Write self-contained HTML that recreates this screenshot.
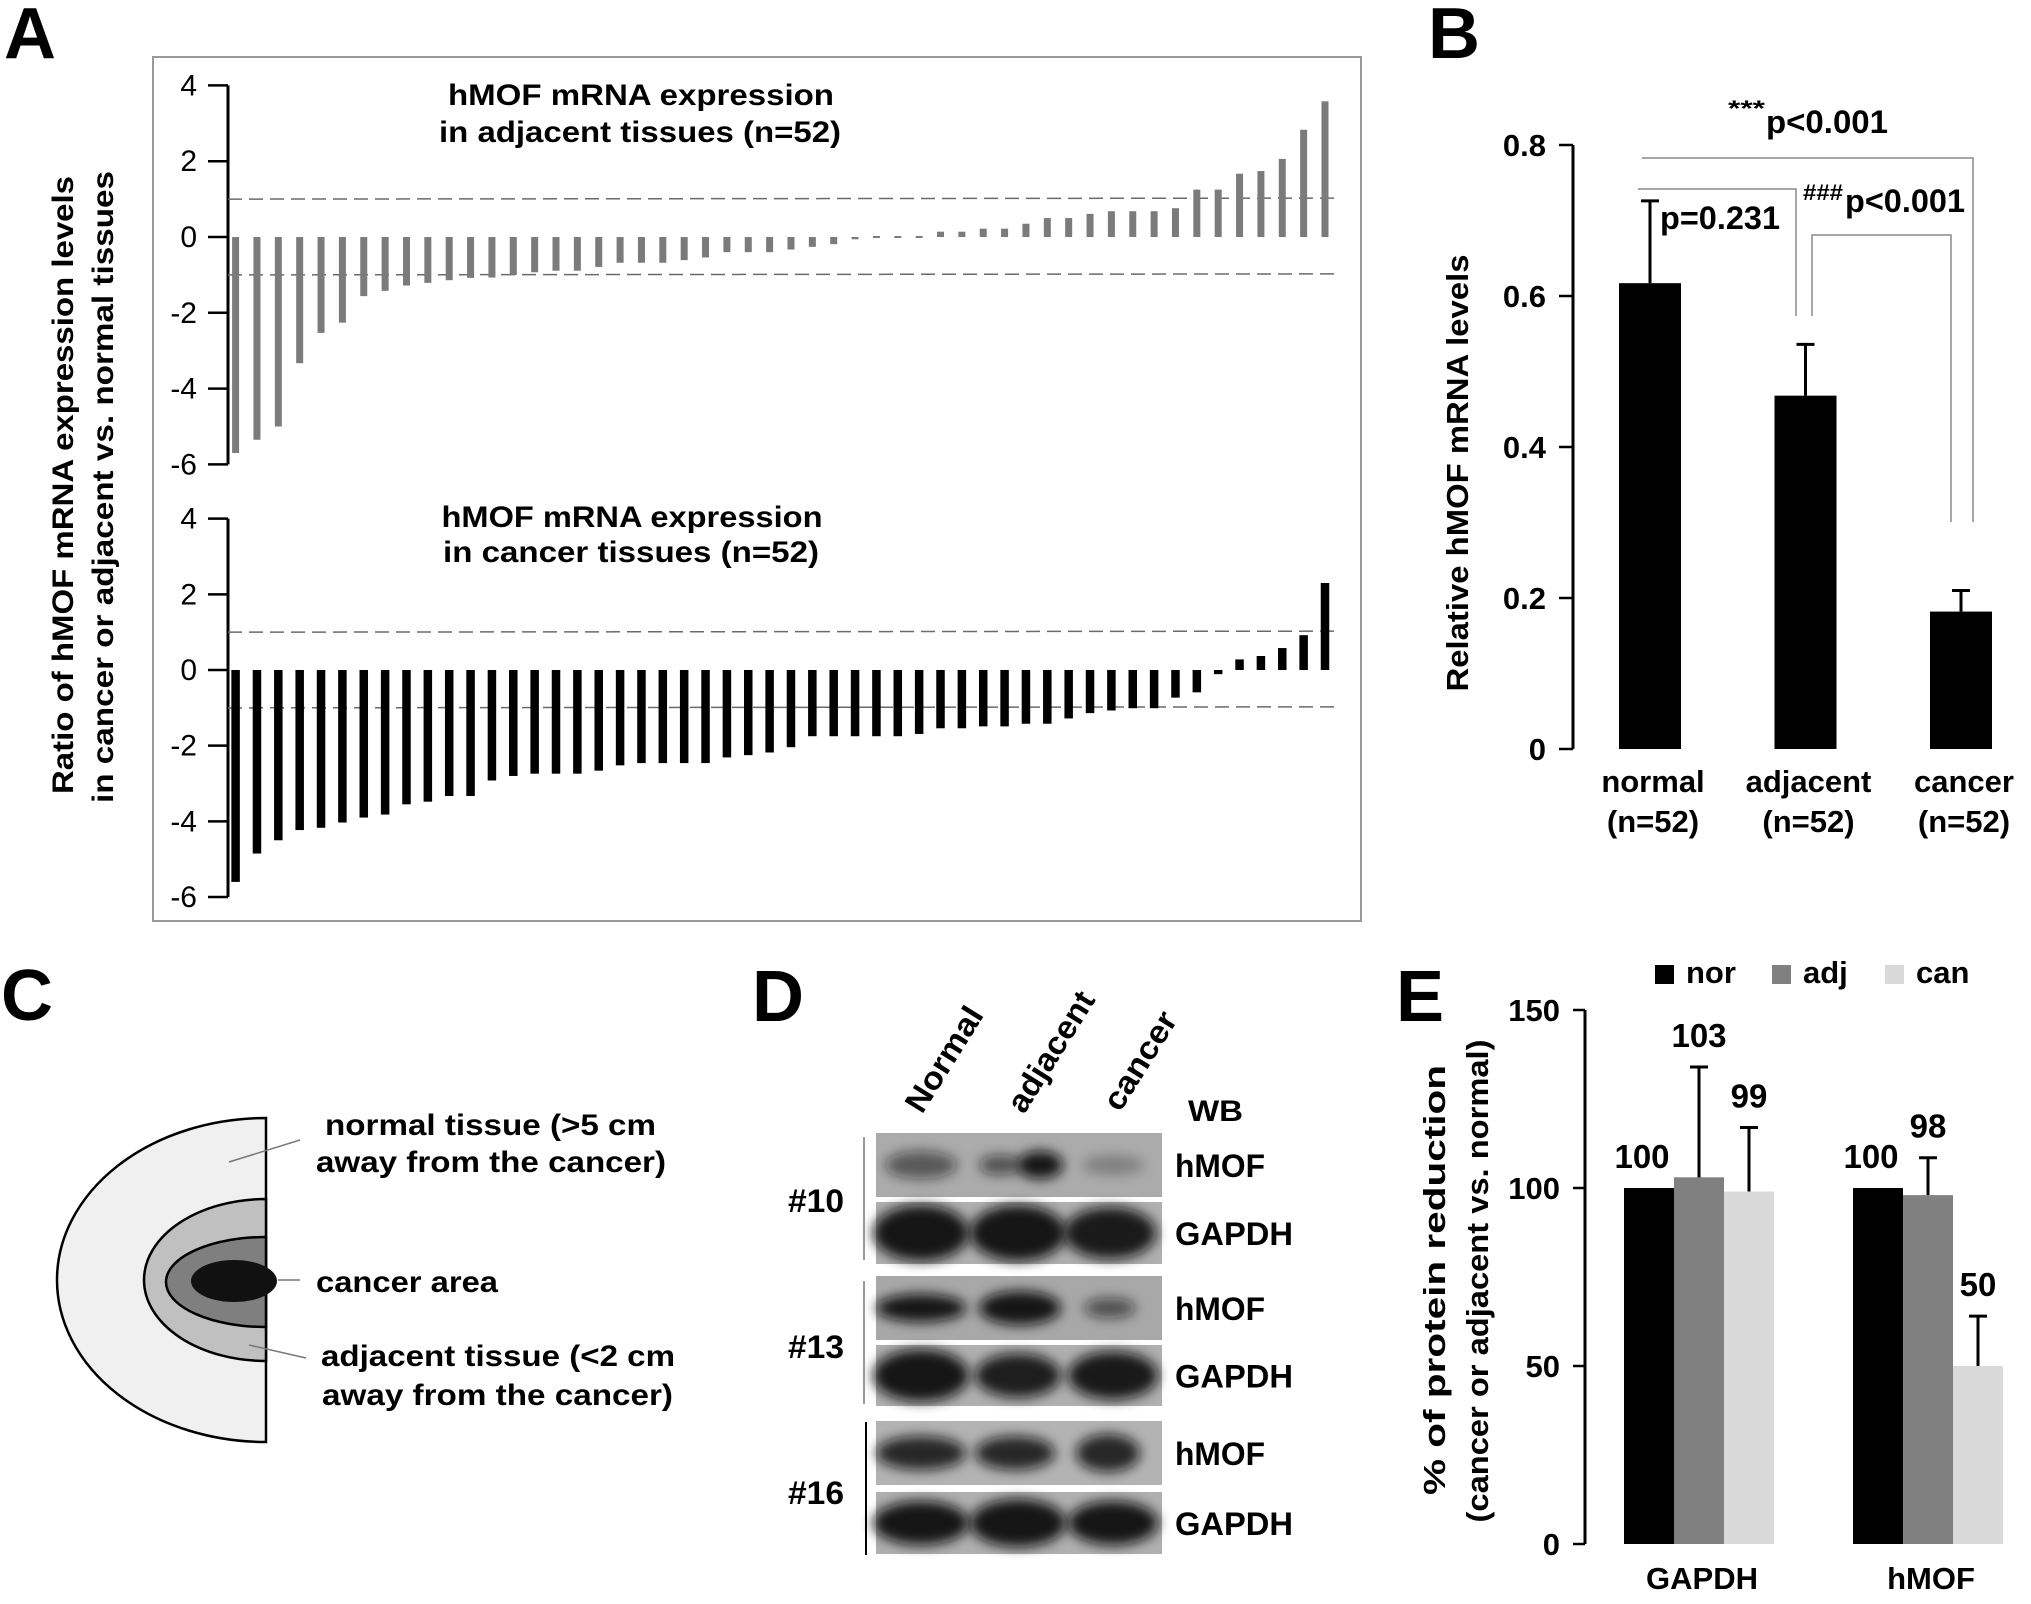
<!DOCTYPE html>
<html><head><meta charset="utf-8"><style>
html,body{margin:0;padding:0;background:#fff;}
svg{display:block;}
text{font-family:"Liberation Sans",sans-serif;}
.b{font-weight:bold;}
</style></head><body>
<svg id="fig" width="2031" height="1604" viewBox="0 0 2031 1604" xmlns="http://www.w3.org/2000/svg">
<defs>
<filter id="blur" x="-30%" y="-60%" width="160%" height="220%"><feGaussianBlur stdDeviation="6"/></filter>
</defs>
<text x="4" y="58" class="b" font-size="72">A</text>
<text x="1428" y="58" class="b" font-size="72">B</text>
<text x="1" y="1020" class="b" font-size="72">C</text>
<text x="752" y="1021" class="b" font-size="72">D</text>
<text x="1396" y="1021" class="b" font-size="72">E</text>

<g id="panelA">
<rect x="153" y="57" width="1208" height="864" fill="none" stroke="#999" stroke-width="2"/>
<g transform="translate(73,485) rotate(-90)"><text x="0" y="0" text-anchor="middle" class="b" font-size="30" textLength="618" lengthAdjust="spacingAndGlyphs">Ratio of hMOF mRNA expression levels</text></g>
<g transform="translate(113,487) rotate(-90)"><text x="0" y="0" text-anchor="middle" class="b" font-size="30" textLength="632" lengthAdjust="spacingAndGlyphs">in cancer or adjacent vs. normal tissues</text></g>
<text x="641" y="105" text-anchor="middle" class="b" font-size="30" textLength="386" lengthAdjust="spacingAndGlyphs">hMOF mRNA expression</text>
<text x="640" y="142" text-anchor="middle" class="b" font-size="30" textLength="402" lengthAdjust="spacingAndGlyphs">in adjacent tissues (n=52)</text>
<text x="632" y="527" text-anchor="middle" class="b" font-size="30" textLength="381" lengthAdjust="spacingAndGlyphs">hMOF mRNA expression</text>
<text x="631" y="562" text-anchor="middle" class="b" font-size="30" textLength="376" lengthAdjust="spacingAndGlyphs">in cancer tissues (n=52)</text>
<g id="aTop"></g><g id="aBot"></g>
</g>

<g id="panelB">
<g transform="translate(1468,473) rotate(-90)"><text x="0" y="0" text-anchor="middle" class="b" font-size="31" textLength="437" lengthAdjust="spacingAndGlyphs">Relative hMOF mRNA levels</text></g>
<g id="bChart"></g>
<g stroke="#8a8a8a" stroke-width="1.5" fill="none">
<polyline points="1642,158 1973,158 1973,522"/>
<polyline points="1638,189 1796,189 1796,316"/>
<polyline points="1812,316 1812,235 1951,235 1951,522"/>
</g>
<text x="1728" y="116" class="b" font-size="22" textLength="37" lengthAdjust="spacingAndGlyphs">***</text>
<text x="1766" y="133" class="b" font-size="32" textLength="122" lengthAdjust="spacingAndGlyphs">p&lt;0.001</text>
<text x="1660" y="229" class="b" font-size="32" textLength="120" lengthAdjust="spacingAndGlyphs">p=0.231</text>
<text x="1803" y="200" class="b" font-size="22" textLength="40" lengthAdjust="spacingAndGlyphs">###</text>
<text x="1845" y="212" class="b" font-size="32" textLength="120" lengthAdjust="spacingAndGlyphs">p&lt;0.001</text>
</g>

<g id="panelC">
<path d="M266,1118 A209,162 0 0 0 266,1442 Z" fill="#f0f0f0" stroke="#000" stroke-width="2.5"/>
<path d="M266,1199 A122,81 0 0 0 266,1361 Z" fill="#c0c0c0" stroke="#000" stroke-width="2.5"/>
<path d="M266,1237 A100,45 0 0 0 266,1327 Z" fill="#7f7f7f" stroke="#000" stroke-width="2.5"/>
<ellipse cx="234" cy="1281" rx="43" ry="21" fill="#111"/>
<g stroke="#777" stroke-width="1.5">
<line x1="229" y1="1162" x2="300" y2="1140"/><line x1="278" y1="1280" x2="300" y2="1280"/><line x1="249" y1="1345" x2="306" y2="1358"/>
</g>
<g class="b" font-size="30">
<text x="325" y="1135" textLength="331" lengthAdjust="spacingAndGlyphs">normal tissue (&gt;5 cm</text>
<text x="316" y="1172" textLength="350" lengthAdjust="spacingAndGlyphs">away from the cancer)</text>
<text x="316" y="1292" textLength="182" lengthAdjust="spacingAndGlyphs">cancer area</text>
<text x="321" y="1366" textLength="354" lengthAdjust="spacingAndGlyphs">adjacent tissue (&lt;2 cm</text>
<text x="322" y="1405" textLength="351" lengthAdjust="spacingAndGlyphs">away from the cancer)</text>
</g>
</g>

<g id="panelD">
<g class="b" font-size="32">
<text transform="translate(922,1115) rotate(-58)" textLength="118" lengthAdjust="spacingAndGlyphs">Normal</text>
<text transform="translate(1024,1115) rotate(-58)" textLength="136" lengthAdjust="spacingAndGlyphs">adjacent</text>
<text transform="translate(1120,1113) rotate(-58)" textLength="110" lengthAdjust="spacingAndGlyphs">cancer</text>
<text x="1188" y="1121" font-size="30" textLength="55" lengthAdjust="spacingAndGlyphs">WB</text>
</g>
<g id="blots"></g>
<g stroke-width="2">
<line x1="864" y1="1137" x2="864" y2="1260" stroke="#999"/>
<line x1="864" y1="1281" x2="864" y2="1404" stroke="#999"/>
<line x1="866" y1="1422" x2="866" y2="1555" stroke="#000"/>
</g>
<g class="b" font-size="32">
<text x="788" y="1212" textLength="56" lengthAdjust="spacingAndGlyphs">#10</text>
<text x="788" y="1358" textLength="56" lengthAdjust="spacingAndGlyphs">#13</text>
<text x="788" y="1504" textLength="56" lengthAdjust="spacingAndGlyphs">#16</text>
</g>
</g>

<g id="panelE">
<g transform="translate(1445,1280) rotate(-90)"><text x="0" y="0" text-anchor="middle" class="b" font-size="31" textLength="430" lengthAdjust="spacingAndGlyphs">% of protein reduction</text></g>
<g transform="translate(1488,1281) rotate(-90)"><text x="0" y="0" text-anchor="middle" class="b" font-size="31" textLength="483" lengthAdjust="spacingAndGlyphs">(cancer or adjacent vs. normal)</text></g>
<g id="eChart"></g>
</g>
</svg>
<script>
const NS='http://www.w3.org/2000/svg';
function mk(parent,tag,attrs,txt){const e=document.createElementNS(NS,tag);for(const k in attrs)e.setAttribute(k,attrs[k]);if(txt!==undefined)e.textContent=txt;parent.appendChild(e);return e;}

const adjacentRatios=[-5.7,-5.35,-5.0,-3.33,-2.53,-2.26,-1.56,-1.42,-1.28,-1.21,-1.14,-1.08,-1.07,-1.0,-0.93,-0.89,-0.89,-0.79,-0.68,-0.68,-0.68,-0.61,-0.54,-0.40,-0.40,-0.40,-0.33,-0.26,-0.19,-0.06,0.05,0.05,0.05,0.14,0.14,0.22,0.22,0.35,0.5,0.5,0.61,0.68,0.68,0.68,0.76,1.25,1.25,1.67,1.74,2.06,2.83,3.58];
const cancerRatios=[-5.6,-4.85,-4.5,-4.23,-4.17,-4.03,-3.9,-3.82,-3.55,-3.48,-3.33,-3.33,-2.92,-2.8,-2.74,-2.74,-2.74,-2.66,-2.52,-2.46,-2.46,-2.46,-2.46,-2.31,-2.25,-2.18,-2.04,-1.75,-1.75,-1.75,-1.75,-1.75,-1.69,-1.54,-1.54,-1.49,-1.49,-1.42,-1.42,-1.28,-1.14,-1.07,-1.01,-1.01,-0.73,-0.59,-0.11,0.28,0.37,0.58,0.92,2.3];
const ratioTicks=[4,2,0,-2,-4,-6];
const thresholdLines=[1,-1];

function drawA(g,vals,zeroY,unit,color,bw,nameBase){
  const y=v=>zeroY-v*unit;
  const x=i=>235.6+i*(1325-235.6)/(vals.length-1);
  mk(g,'line',{x1:228,y1:y(4),x2:228,y2:y(-6),stroke:'#000','stroke-width':3});
  ratioTicks.forEach(t=>{
    mk(g,'line',{x1:208,y1:y(t),x2:228,y2:y(t),stroke:'#000','stroke-width':2.5});
    const tx=mk(g,'text',{x:197,y:y(t)+10,'text-anchor':'end','font-size':30},String(t));
    
    
  });
  thresholdLines.forEach(t=>{
    const l=mk(g,'line',{x1:228,y1:y(t),x2:1337,y2:y(t)-1,stroke:'#6a6a6a','stroke-width':1.5,'stroke-dasharray':'14 7'});
    
    
  });
  vals.forEach((v,i)=>{
    let top=Math.min(y(v),y(0)),h=Math.abs(y(v)-y(0));
    if(h<2){h=2;top=y(0)-1;}
    const r=mk(g,'rect',{x:x(i)-bw/2,y:top,width:bw,height:h,fill:color});
    
    
  });
}
drawA(document.getElementById('aTop'),adjacentRatios,237,37.9,'#7b7b7b',7,'adjacent-ratio');
drawA(document.getElementById('aBot'),cancerRatios,670,37.84,'#000',8.5,'cancer-ratio');

const bCategories=['normal','adjacent','cancer'];
const bMeans=[0.617,0.468,0.182];
const bErrors=[0.109,0.068,0.028];
const bTicks=[0,0.2,0.4,0.6,0.8];
const bTickLabels=['0','0.2','0.4','0.6','0.8'];
(function(){
  const g=document.getElementById('bChart');
  const y=v=>749-v*755;
  const cx=i=>1650+i*155.5;
  const bw=62;
  mk(g,'line',{x1:1573,y1:y(0.8),x2:1573,y2:y(0),stroke:'#000','stroke-width':3});
  bTicks.forEach((t,i)=>{
    mk(g,'line',{x1:1559,y1:y(t),x2:1573,y2:y(t),stroke:'#000','stroke-width':2.5});
    const tx=mk(g,'text',{x:1546,y:y(t)+11,'text-anchor':'end','font-size':31,'font-weight':'bold'},bTickLabels[i]);
    
    
  });
  bMeans.forEach((v,i)=>{
    const e=mk(g,'line',{x1:cx(i),y1:y(v),x2:cx(i),y2:y(v+bErrors[i]),stroke:'#000','stroke-width':3});
    
    
    mk(g,'line',{x1:cx(i)-9,y1:y(v+bErrors[i]),x2:cx(i)+9,y2:y(v+bErrors[i]),stroke:'#000','stroke-width':3});
    const r=mk(g,'rect',{x:cx(i)-bw/2,y:y(v),width:bw,height:y(0)-y(v),fill:'#000'});
    
    
    const t1=mk(g,'text',{x:cx(i)+3,y:792,'text-anchor':'middle','font-size':31,'font-weight':'bold'},bCategories[i]);
    
    
    const t2=mk(g,'text',{x:cx(i)+3,y:832,'text-anchor':'middle','font-size':31,'font-weight':'bold'},'(n=52)');
    
    
  });
})();

const blotRows=[
 {label:'hMOF',y:1133,h:64,bg:'#ababab',bands:[[921,0.55,60,14],[1000,0.6,30,10],[1040,0.95,34,14],[1113,0.25,50,10]]},
 {label:'GAPDH',y:1202,h:62,bg:'#b0b0b0',bands:[[921,0.95,84,28],[1018,0.95,84,28],[1110,0.92,80,26]]},
 {label:'hMOF',y:1276,h:64,bg:'#a8a8a8',bands:[[921,0.95,78,14],[1020,0.95,70,17],[1110,0.6,40,10]]},
 {label:'GAPDH',y:1345,h:61,bg:'#b0b0b0',bands:[[921,0.95,84,26],[1018,0.9,74,22],[1113,0.93,78,24]]},
 {label:'hMOF',y:1421,h:64,bg:'#b3b3b3',bands:[[921,0.85,78,17],[1015,0.85,68,17],[1108,0.85,52,19]]},
 {label:'GAPDH',y:1492,h:62,bg:'#b0b0b0',bands:[[921,0.95,84,22],[1018,0.95,84,24],[1113,0.95,78,22]]}
];
(function(){
  const g=document.getElementById('blots');
  blotRows.forEach((r)=>{
    const rect=mk(g,'rect',{x:876,y:r.y,width:286,height:r.h,fill:r.bg});
    
    
    const cy=r.y+r.h/2;
    r.bands.forEach(b=>{
      const e=mk(g,'ellipse',{cx:b[0],cy:cy,rx:b[2]/2+6,ry:b[3],fill:'#111','fill-opacity':b[1],filter:'url(#blur)'});
      
      
    });
    const t=mk(g,'text',{x:1175,y:cy+12,'font-size':32,'font-weight':'bold',textLength:r.label==='hMOF'?90:118,lengthAdjust:'spacingAndGlyphs'},r.label);
    
    
  });
})();

const eGroups=['GAPDH','hMOF'];
const eSeries=['nor','adj','can'];
const eValues=[[100,103,99],[100,98,50]];
const eErrors=[[0,31,18],[0,10.5,14]];
const eLabels=[['100','103','99'],['100','98','50']];
const eTicks=[0,50,100,150];
const eColors=['#000','#808080','#d9d9d9'];
(function(){
  const g=document.getElementById('eChart');
  const y=v=>1544-v*(534/150);
  const bw=50;
  const gx=[1624,1853];
  mk(g,'line',{x1:1585,y1:y(150),x2:1585,y2:y(0),stroke:'#000','stroke-width':3});
  eTicks.forEach(t=>{
    mk(g,'line',{x1:1573,y1:y(t),x2:1585,y2:y(t),stroke:'#000','stroke-width':2.5});
    const tx=mk(g,'text',{x:1560,y:y(t)+11,'text-anchor':'end','font-size':31,'font-weight':'bold'},String(t));
    
    
  });
  eGroups.forEach((grp,gi)=>{
    eValues[gi].forEach((v,si)=>{
      const x0=gx[gi]+si*bw;
      const cx=x0+bw/2;
      const r=mk(g,'rect',{x:x0,y:y(v),width:bw,height:y(0)-y(v),fill:eColors[si]});
      
      
      const err=eErrors[gi][si];
      if(err>0){
        mk(g,'line',{x1:cx,y1:y(v),x2:cx,y2:y(v+err),stroke:'#000','stroke-width':3});
        mk(g,'line',{x1:cx-9,y1:y(v+err),x2:cx+9,y2:y(v+err),stroke:'#000','stroke-width':3});
      }
      const lt=mk(g,'text',{x:cx-(err>0?0:7),y:y(v+err)-20,'text-anchor':'middle','font-size':33,'font-weight':'bold'},eLabels[gi][si]);
      
      
    });
    const ct=mk(g,'text',{x:gx[gi]+78,y:1589,'text-anchor':'middle','font-size':31,'font-weight':'bold'},grp);
    
    
  });
  const lx=[1655,1772,1885];
  eSeries.forEach((s,i)=>{
    const sq=mk(g,'rect',{x:lx[i],y:965,width:19,height:19,fill:eColors[i]});
    
    
    const t=mk(g,'text',{x:lx[i]+31,y:983,'font-size':31,'font-weight':'bold'},s);
    
    
  });
})();
</script>
</body></html>
